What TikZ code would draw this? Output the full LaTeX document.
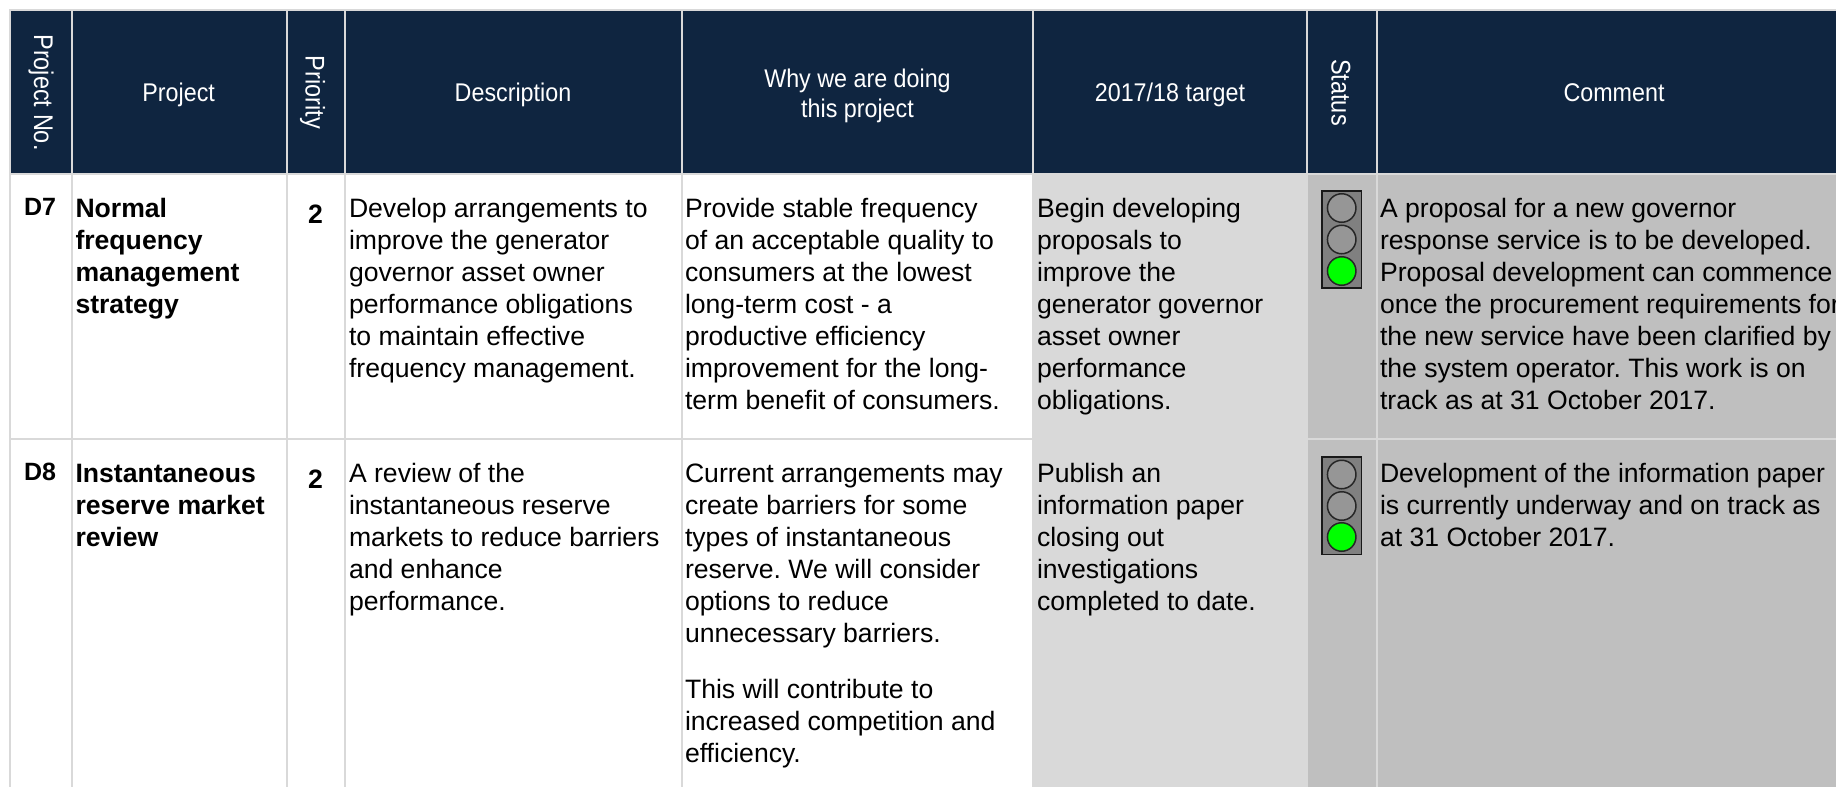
\documentclass[tikz,border=0pt]{standalone}
\usepackage{fontspec}
\setmainfont{Liberation Sans}
\newfontfamily\hdrfam[FakeStretch=0.91]{Liberation Sans}
\newfontfamily\rotfam[FakeStretch=0.87]{Liberation Sans}
\frenchspacing
\definecolor{hdr}{HTML}{0F2540}
\definecolor{gridc}{HTML}{D9D9D9}
\definecolor{tgt}{HTML}{D9D9D9}
\definecolor{stc}{HTML}{BFBFBF}
\definecolor{lamp}{HTML}{969696}
\definecolor{housing}{HTML}{808080}
\definecolor{lit}{HTML}{00FF00}
\newcommand{\bodyfont}{\frenchspacing\fontsize{26.6}{32}\selectfont}
\newcommand{\hdrfont}{\hdrfam\fontsize{25.6}{30}\selectfont}
\newcommand{\rotfont}{\rotfam\fontsize{27}{30}\selectfont}
\tikzset{
  x=1pt,y=-1pt,
  gridline/.style={draw=gridc,line width=2pt},
  bodytext/.style={anchor=north west,inner sep=0pt,outer sep=0pt,align=left,font=\bodyfont,text=black},
  boldtext/.style={bodytext,font=\bodyfont\bfseries},
  idtext/.style={anchor=base west,inner sep=0pt,outer sep=0pt,font=\fontsize{25}{32}\selectfont\bfseries,text=black},
  hdrtext/.style={anchor=base,inner sep=0pt,align=center,font=\hdrfont,text=white},
  hdrtwo/.style={anchor=north,inner sep=0pt,align=center,font=\hdrfont,text=white},
  hdrrot/.style={anchor=base,inner sep=0pt,font=\rotfont,text=white,rotate=-90},
  housingbox/.style={draw=black!90,fill=housing,line width=1.7pt},
  lampoff/.style={draw=black!85,fill=lamp,line width=1.5pt,circle,minimum size=28.5pt,inner sep=0pt,outer sep=0pt},
  lampon/.style={lampoff,fill=lit},
}
\begin{document}
\begin{tikzpicture}
\useasboundingbox (0,0) rectangle (1836,787);
\fill[white] (0,0) rectangle (1836,787);
% fills
\fill[hdr] (10,10) rectangle (1836,174);
\fill[tgt] (1033,174) rectangle (1307,787);
\fill[stc] (1307,174) rectangle (1836,787);
% grid
\draw[gridline] (9,10) -- (1836,10);
\draw[gridline] (10,174) -- (1836,174);
\draw[gridline] (10,439) -- (1033,439);
\draw[gridline] (1307,439) -- (1836,439);
\foreach \vx in {10,72,287,345,682,1033,1307,1377}{
  \draw[gridline] (\vx,10) -- (\vx,787);
}
% header
\node[hdrrot] (hNo) at (34,92.5) {Project No.};
\node[hdrtext] (hProj) at (178.7,101) {Project};
\node[hdrrot] (hPri) at (305.5,92.5) {Priority};
\node[hdrtext] (hDesc) at (513,101) {Description};
\node[hdrtwo] (hWhy) at (857.5,66.5) {\strut Why we are doing\\this project};
\node[hdrtext] (hTgt) at (1170,101) {2017/18 target};
\node[hdrrot] (hSt) at (1331.7,92.5) {Status};
\node[hdrtext] (hCom) at (1614,101) {Comment};
% row D7
\node[idtext] (d7) at (24,215) {D7};
\node[boldtext] (d7p) at (75.5,194.6) {\strut Normal\\frequency\\management\\strategy};
\node[boldtext] (d7n) at (308,201.5) {\strut 2};
\node[bodytext] (d7d) at (349,194.6) {\strut Develop arrangements to\\improve the generator\\governor asset owner\\performance obligations\\to maintain effective\\frequency management.};
\node[bodytext] (d7w) at (685,194.6) {\strut Provide stable frequency\\of an acceptable quality to\\consumers at the lowest\\long-term cost - a\\productive efficiency\\improvement for the long-\\term benefit of consumers.};
\node[bodytext] (d7t) at (1037,194.6) {\strut Begin developing\\proposals to\\improve the\\generator governor\\asset owner\\performance\\obligations.};
\node[bodytext] (d7c) at (1380,194.6) {\strut A proposal for a new governor\\response service is to be developed.\\Proposal development can commence\\once the procurement requirements for\\the new service have been clarified by\\the system operator. This work is on\\track as at 31 October 2017.};
% row D8
\node[idtext] (d8) at (24,480.5) {D8};
\node[boldtext] (d8p) at (75.5,460.3) {\strut Instantaneous\\reserve market\\review};
\node[boldtext] (d8n) at (308,466.5) {\strut 2};
\node[bodytext] (d8d) at (349,460.3) {\strut A review of the\\instantaneous reserve\\markets to reduce barriers\\and enhance\\performance.};
\node[bodytext] (d8w) at (685,460.3) {\strut Current arrangements may\\create barriers for some\\types of instantaneous\\reserve. We will consider\\options to reduce\\unnecessary barriers.\\[24pt]This will contribute to\\increased competition and\\efficiency.};
\node[bodytext] (d8t) at (1037,460.3) {\strut Publish an\\information paper\\closing out\\investigations\\completed to date.};
\node[bodytext] (d8c) at (1380,460.3) {\strut Development of the information paper\\is currently underway and on track as\\at 31 October 2017.};
% traffic lights
\draw[housingbox] (1321.7,190.7) rectangle (1361.4,288);
\node[lampoff] (a1) at (1341.7,208) {};
\node[lampoff] (a2) at (1341.7,239.5) {};
\node[lampon] (a3) at (1341.7,271) {};
\draw[housingbox] (1321.7,456.7) rectangle (1361.4,554.5);
\node[lampoff] (b1) at (1341.7,474.5) {};
\node[lampoff] (b2) at (1341.7,506) {};
\node[lampon] (b3) at (1341.7,537) {};
\end{tikzpicture}
\end{document}
